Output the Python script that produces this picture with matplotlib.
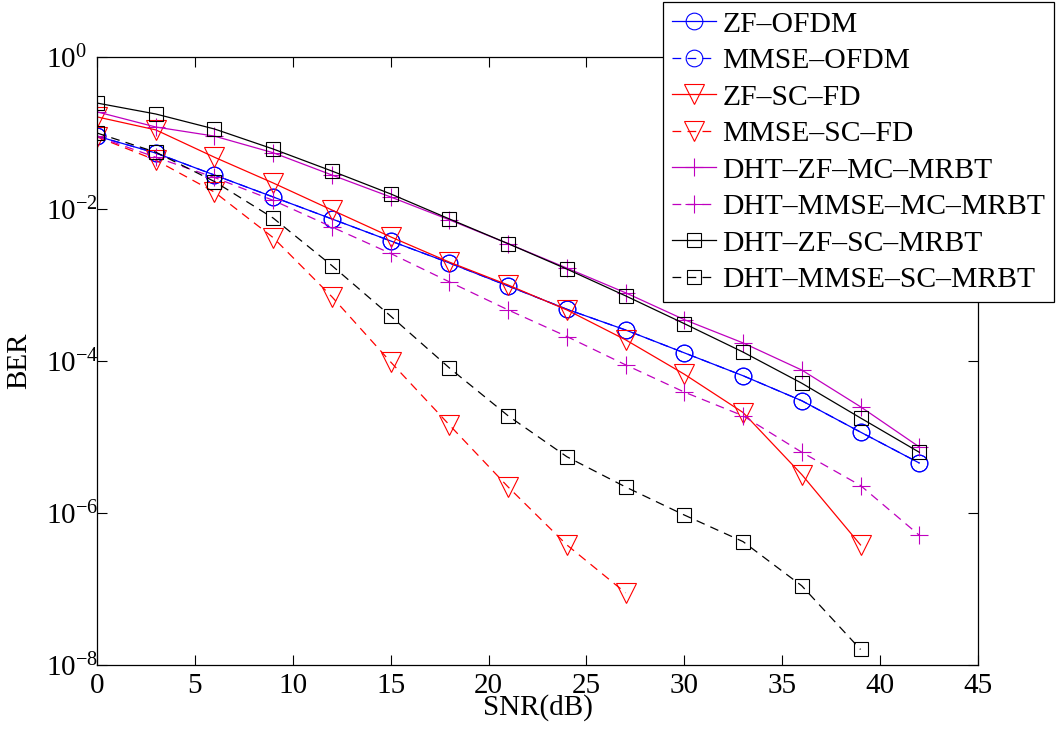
import matplotlib

matplotlib.use("Agg")
import matplotlib.pyplot as plt

plt.rcParams.update({
    "font.family": "Liberation Serif",
    "mathtext.fontset": "custom",
    "mathtext.rm": "Liberation Serif",
    "mathtext.it": "Liberation Serif:italic",
    "mathtext.bf": "Liberation Serif:bold",
    "font.size": 21,
})

snr = [0, 3, 6, 9, 12, 15, 18, 21, 24, 27, 30, 33, 36, 39, 42]

zf_ofdm = [0.091, 0.0546, 0.028, 0.0144, 0.0074, 0.0038, 0.00195, 9.7e-4,
           4.8e-4, 2.56e-4, 1.28e-4, 6.4e-5, 3.0e-5, 1.16e-5, 4.55e-6]
mmse_ofdm = [0.091, 0.0546, 0.028, 0.0144, 0.0074, 0.0038, 0.00195, 9.7e-4,
             4.8e-4, 2.56e-4, 1.28e-4, 6.4e-5, 3.0e-5, 1.16e-5, 4.55e-6]
zf_scfd = [0.163, 0.11, 0.048, 0.022, 0.0097, 0.0043, 0.002, 0.001,
           4.7e-4, 1.9e-4, 6.7e-5, 2.1e-5, 3.2e-6, 3.8e-7]
mmse_scfd = [0.089, 0.044, 0.0167, 0.0042, 7.0e-4, 9.7e-5, 1.44e-5, 2.2e-6,
             3.8e-7, 8.9e-8]
dht_zf_mc = [0.19, 0.12, 0.091, 0.055, 0.028, 0.0144, 0.0072, 0.0035,
             0.00167, 7.9e-4, 3.5e-4, 1.73e-4, 7.6e-5, 2.5e-5, 7.4e-6]
dht_mmse_mc = [0.09, 0.048, 0.026, 0.013, 0.0058, 0.0026, 0.0011, 4.7e-4,
               2.1e-4, 8.9e-5, 3.9e-5, 1.9e-5, 6.3e-6, 2.3e-6, 5.1e-7]
dht_zf_sc = [0.248, 0.178, 0.113, 0.0616, 0.0316, 0.0158, 0.0074, 0.0035,
             0.00162, 7.2e-4, 3.1e-4, 1.31e-4, 5.1e-5, 1.78e-5, 6.3e-6]
dht_mmse_sc = [0.10, 0.056, 0.023, 0.0076, 0.0018, 3.9e-4, 8.1e-5, 1.9e-5,
               5.5e-6, 2.2e-6, 9.4e-7, 4.2e-7, 1.1e-7, 1.6e-8]

series = [
    ("ZF\u2013OFDM", zf_ofdm, "b", "-", "o", 12),
    ("MMSE\u2013OFDM", mmse_ofdm, "b", "--", "o", 12),
    ("ZF\u2013SC\u2013FD", zf_scfd, "r", "-", "v", 14),
    ("MMSE\u2013SC\u2013FD", mmse_scfd, "r", "--", "v", 14),
    ("DHT\u2013ZF\u2013MC\u2013MRBT", dht_zf_mc, "m", "-", "+", 13),
    ("DHT\u2013MMSE\u2013MC\u2013MRBT", dht_mmse_mc, "m", "--", "+", 13),
    ("DHT\u2013ZF\u2013SC\u2013MRBT", dht_zf_sc, "k", "-", "s", 10),
    ("DHT\u2013MMSE\u2013SC\u2013MRBT", dht_mmse_sc, "k", "--", "s", 10),
]

fig = plt.figure(figsize=(10.59, 7.33), dpi=100)
ax = fig.add_axes([0.0916, 0.0928, 0.8319, 0.8294])

for label, vals, col, ls, mk, ms in series:
    kw = dict(color=col, linestyle=ls, linewidth=0.9, marker=mk, markersize=ms,
              markerfacecolor="none", markeredgecolor=col, markeredgewidth=0.8,
              label=label)
    if ls == "--":
        kw["dashes"] = (7, 5)
    ax.semilogy(snr[:len(vals)], vals, **kw)

ax.set_xlim(0, 45)
ax.set_ylim(1e-8, 1e0)
ax.set_xticks(range(0, 46, 5))
ax.set_yticks([1e0, 1e-2, 1e-4, 1e-6, 1e-8])
ax.minorticks_off()
ax.tick_params(direction="in", length=7, width=0.8, top=True, right=True,
               labelsize=21)
ax.tick_params(axis="x", pad=6)
# y labels start at a common left edge, exponent hangs towards the axis
ax.tick_params(axis="y", pad=37)
for lab in ax.get_yticklabels():
    lab.set_horizontalalignment("left")
for sp in ax.spines.values():
    sp.set_linewidth(0.9)

ax.set_xlabel("SNR(dB)", fontsize=21, labelpad=-4)
ax.set_ylabel("BER", fontsize=21)
ax.yaxis.set_label_coords(-0.074, 0.5)

leg = ax.legend(loc="upper right", bbox_to_anchor=(0.9953, 0.997),
                bbox_transform=fig.transFigure, borderaxespad=0,
                fontsize=21.3, handlelength=1.5, handletextpad=0.2,
                labelspacing=0.33, borderpad=0.3, fancybox=False,
                framealpha=1, edgecolor="k")
leg.get_frame().set_linewidth(0.9)

fig.savefig("out.png", dpi=100, facecolor="white")
